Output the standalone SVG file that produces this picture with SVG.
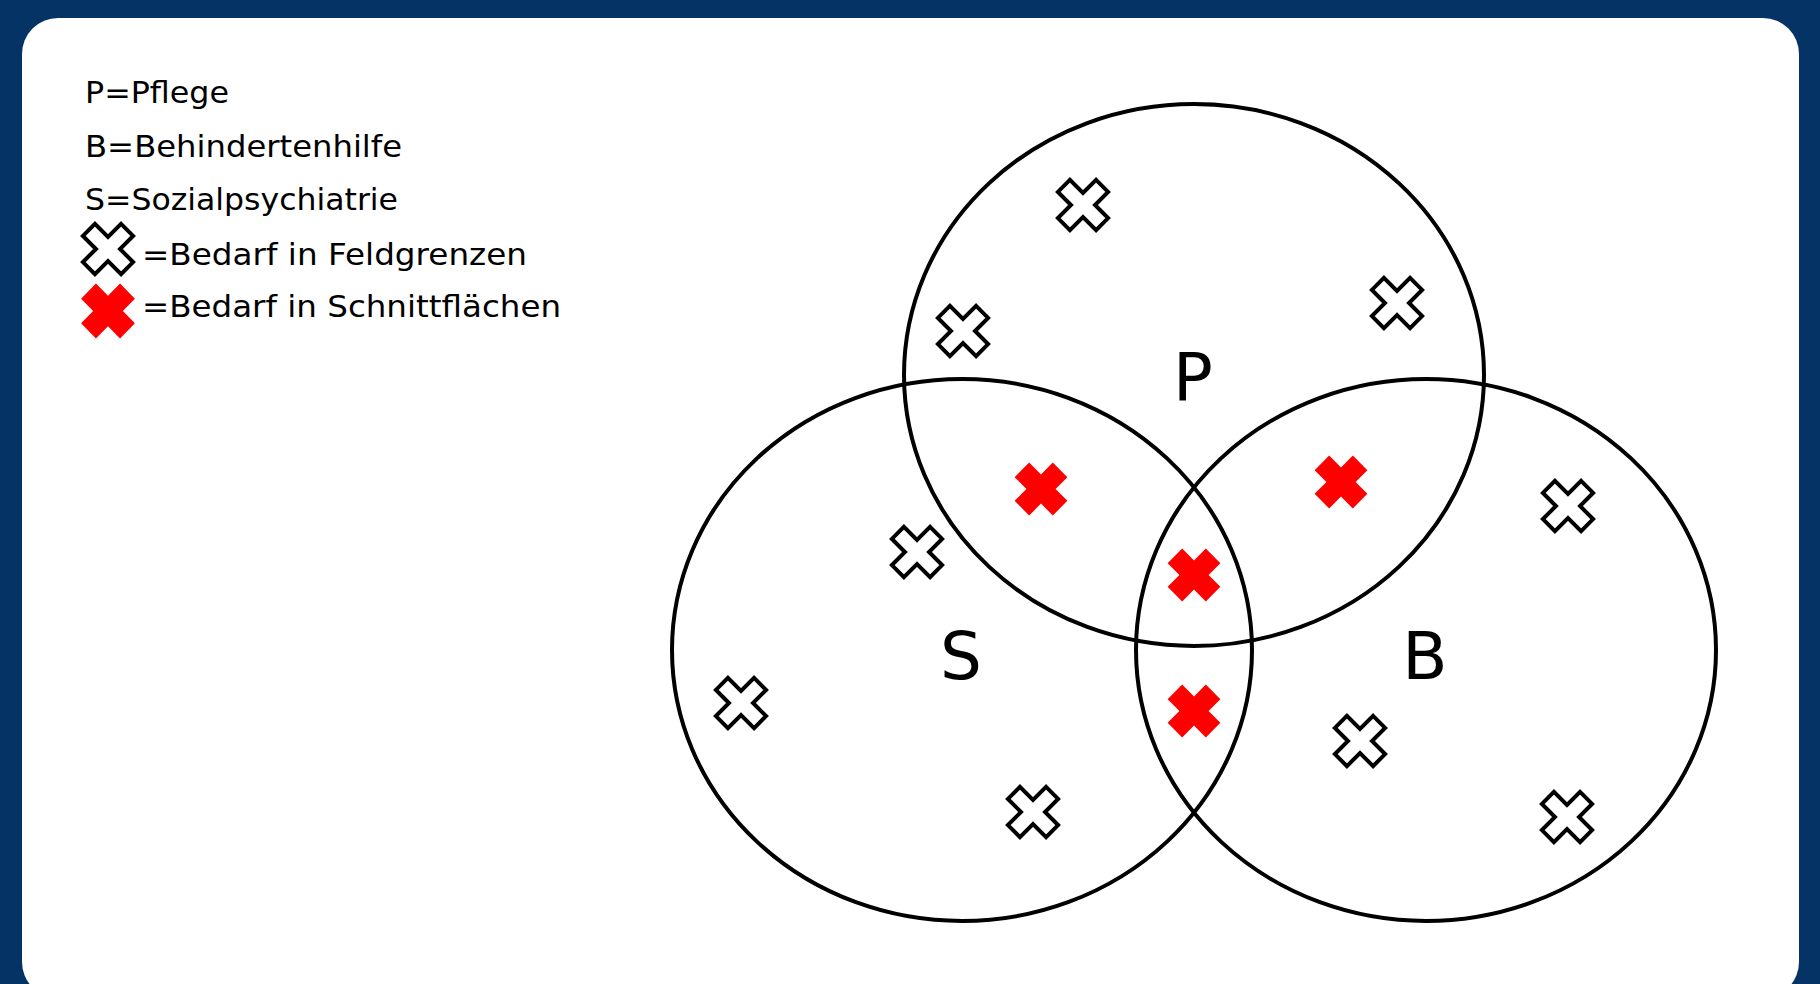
<svg xmlns="http://www.w3.org/2000/svg" xmlns:xlink="http://www.w3.org/1999/xlink" width="1820" height="984" viewBox="0 0 1820 984">
<style>
.lg{font-family:"DejaVu Sans","Liberation Sans",sans-serif;font-size:30px;fill:#000}
.big{font-family:"DejaVu Sans","Liberation Sans",sans-serif;font-size:66px;fill:#000;text-anchor:middle}
.circ{fill:none;stroke:#000;stroke-width:4}
.ox{fill:#fff;stroke:#000;stroke-width:4;stroke-linejoin:miter}
.rx{fill:#f00}
</style>
<defs>
<path id="crossO" d="M-8.5,-27 L8.5,-27 L8.5,-8.5 L27,-8.5 L27,8.5 L8.5,8.5 L8.5,27 L-8.5,27 L-8.5,8.5 L-27,8.5 L-27,-8.5 L-8.5,-8.5 Z" transform="rotate(45)"/>
<path id="crossR" d="M-10.3,-27 L10.3,-27 L10.3,-10.3 L27,-10.3 L27,10.3 L10.3,10.3 L10.3,27 L-10.3,27 L-10.3,10.3 L-27,10.3 L-27,-10.3 L-10.3,-10.3 Z" transform="rotate(45)"/>
</defs>
<rect x="0" y="0" width="1820" height="984" fill="#063366"/>
<rect x="22" y="18" width="1777" height="980" rx="36" ry="36" fill="#fff"/>
<g id="legend">
<text class="lg" x="85" y="103" textLength="144" lengthAdjust="spacingAndGlyphs">P=Pflege</text>
<text class="lg" x="85" y="157" textLength="317" lengthAdjust="spacingAndGlyphs">B=Behindertenhilfe</text>
<text class="lg" x="85" y="210" textLength="313" lengthAdjust="spacingAndGlyphs">S=Sozialpsychiatrie</text>
<use xlink:href="#crossO" class="ox" transform="translate(108,249)"/>
<text class="lg" x="142" y="265" textLength="385" lengthAdjust="spacingAndGlyphs">=Bedarf in Feldgrenzen</text>
<use xlink:href="#crossR" class="rx" transform="translate(108,311) scale(1.02,1.04)"/>
<text class="lg" x="142" y="317" textLength="419" lengthAdjust="spacingAndGlyphs">=Bedarf in Schnittflächen</text>
</g>
<g id="circle-P">
<ellipse class="circ" cx="1194" cy="375" rx="290" ry="271"/>
<text class="big" x="1193" y="400">P</text>
</g>
<g id="circle-S">
<ellipse class="circ" cx="962" cy="650" rx="290" ry="271"/>
<text class="big" x="961" y="679">S</text>
</g>
<g id="circle-B">
<ellipse class="circ" cx="1426" cy="650" rx="290" ry="271"/>
<text class="big" x="1425" y="679">B</text>
</g>
<g id="markers-field">
<use xlink:href="#crossO" class="ox" x="1083" y="205"/>
<use xlink:href="#crossO" class="ox" x="1397" y="303"/>
<use xlink:href="#crossO" class="ox" x="963" y="331"/>
<use xlink:href="#crossO" class="ox" x="1568" y="506"/>
<use xlink:href="#crossO" class="ox" x="917" y="552"/>
<use xlink:href="#crossO" class="ox" x="741" y="703"/>
<use xlink:href="#crossO" class="ox" x="1360" y="741"/>
<use xlink:href="#crossO" class="ox" x="1033" y="812"/>
<use xlink:href="#crossO" class="ox" x="1567" y="817"/>
</g>
<g id="markers-intersection">
<use xlink:href="#crossR" class="rx" x="1041" y="489"/>
<use xlink:href="#crossR" class="rx" x="1341" y="482"/>
<use xlink:href="#crossR" class="rx" x="1194" y="575"/>
<use xlink:href="#crossR" class="rx" x="1194" y="711"/>
</g>
</svg>
